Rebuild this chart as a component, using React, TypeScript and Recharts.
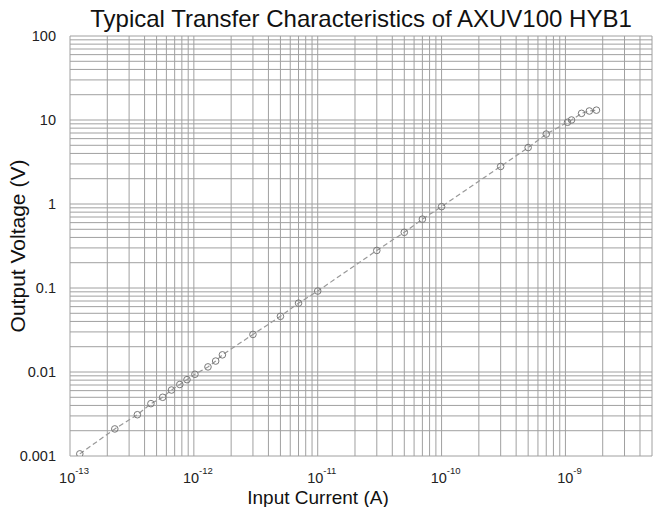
import React from "react";
import { ComposedChart, Line, XAxis, YAxis, CartesianGrid } from "recharts";

// measured points (input current in A, output voltage in V)
const INPUT_CURRENT = [
  1.2e-13, 2.3e-13, 3.5e-13, 4.5e-13, 5.6e-13, 6.6e-13, 7.7e-13, 8.8e-13, 1.02e-12,
  1.3e-12, 1.5e-12, 1.7e-12, 3e-12, 5e-12, 7e-12, 1e-11, 3e-11, 5e-11, 7e-11, 1e-10,
  3e-10, 5e-10, 7e-10, 1.04e-9, 1.12e-9, 1.35e-9, 1.56e-9, 1.78e-9,
];
const OUTPUT_VOLTAGE = [
  0.00106, 0.0021, 0.0031, 0.0042, 0.005, 0.0061, 0.0071, 0.0081, 0.0094,
  0.0115, 0.0135, 0.016, 0.028, 0.046, 0.066, 0.092, 0.28, 0.46, 0.66, 0.93,
  2.8, 4.7, 6.8, 9.4, 10, 12, 12.8, 13.1,
];

const X_DECADES = [-13, -12, -11, -10, -9];
const X_TICK_EXPONENTS = ["-13", "-12", "-11", "-10", "-9"];
const X_MAX = 5e-9;
const Y_DECADES = [-3, -2, -1, 0, 1, 2];
const Y_TICK_LABELS = ["0.001", "0.01", "0.1", "1", "10", "100"];
const MINOR = [1, 2, 3, 4, 5, 6, 7, 8, 9];

const data = INPUT_CURRENT.map((i, k) => ({ i, v: OUTPUT_VOLTAGE[k] }));

const xTicks = X_DECADES.flatMap((e) => MINOR.map((m) => Number(`${m}e${e}`))).filter((t) => t <= X_MAX);
const yTicks = Y_DECADES.flatMap((e) => MINOR.map((m) => Number(`${m}e${e}`))).filter((t) => t <= 100);

const FONT = '"Liberation Sans", Arial, sans-serif';

const XTick = (props: any) => {
  const { x, y, payload } = props;
  const idx = X_DECADES.findIndex((e) => Math.abs(Number(`1e${e}`) - payload.value) < payload.value * 1e-6);
  if (idx < 0) return null;
  return (
    <text x={x + 4} y={y + 19} textAnchor="middle" fontFamily={FONT} fontSize={14.5} fill="#222">
      10
      <tspan dy={-9} fontSize={9.5}>{X_TICK_EXPONENTS[idx]}</tspan>
    </text>
  );
};

const YTick = (props: any) => {
  const { x, y, payload } = props;
  const idx = Y_DECADES.findIndex((e) => Math.abs(Number(`1e${e}`) - payload.value) < payload.value * 1e-6);
  if (idx < 0) return null;
  return (
    <text x={x - 6} y={y + 5} textAnchor="end" fontFamily={FONT} fontSize={14.5} fill="#222">
      {Y_TICK_LABELS[idx]}
    </text>
  );
};

export default function App() {
  return (
    <div style={{ position: "absolute", left: 0, top: 0, width: 655, height: 507, background: "#fff", fontFamily: FONT }}>
      <div style={{ position: "absolute", left: 361, top: 7, transform: "translateX(-50%)", fontSize: 24, lineHeight: "24px", whiteSpace: "nowrap", color: "#111" }}>
        Typical Transfer Characteristics of AXUV100 HYB1
      </div>
      <ComposedChart width={655} height={507} data={data} margin={{ top: 36, right: 3, bottom: 0, left: 0 }}>
        <CartesianGrid stroke="#a0a0a0" strokeWidth={1} horizontal vertical />
        <XAxis
          dataKey="i"
          type="number"
          scale="log"
          domain={[1e-13, X_MAX]}
          ticks={xTicks}
          interval={0}
          allowDataOverflow
          axisLine={false}
          tickLine={false}
          height={51}
          tick={<XTick />}
        />
        <YAxis
          type="number"
          scale="log"
          domain={[0.001, 100]}
          ticks={yTicks}
          interval={0}
          allowDataOverflow
          axisLine={false}
          tickLine={false}
          width={70}
          tick={<YTick />}
        />
        <Line
          dataKey="v"
          type="linear"
          stroke="#999"
          strokeWidth={1.2}
          strokeDasharray="5 3"
          dot={{ r: 3.3, fill: "none", stroke: "#7a7a7a", strokeWidth: 1, strokeDasharray: "" }}
          isAnimationActive={false}
        />
      </ComposedChart>
      <div style={{ position: "absolute", left: 318, top: 488, transform: "translateX(-50%)", fontSize: 19, lineHeight: "19px", whiteSpace: "nowrap", color: "#111" }}>
        Input Current (A)
      </div>
      <div style={{ position: "absolute", left: 17, top: 246, transform: "translate(-50%, -50%) rotate(-90deg)", fontSize: 21, lineHeight: "21px", whiteSpace: "nowrap", color: "#111" }}>
        Output Voltage (V)
      </div>
    </div>
  );
}
